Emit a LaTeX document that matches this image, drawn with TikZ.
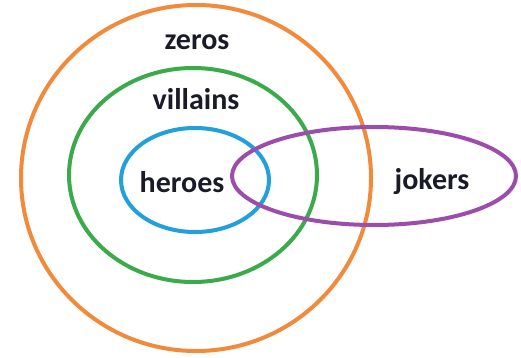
\documentclass[tikz,border=0pt]{standalone}
\usepackage{fontspec}
\setmainfont{Carlito}
\definecolor{orng}{HTML}{F28A3C}
\definecolor{grn}{HTML}{3BAA4B}
\definecolor{blu}{HTML}{22A0DB}
\definecolor{prp}{HTML}{9C4DAB}
\definecolor{txt}{HTML}{1A1A28}
\begin{document}
\begin{tikzpicture}[x=1pt,y=-1pt,
  ring/.style={line width=4pt},
  lbl/.style={text=txt,font=\fontsize{30}{30}\selectfont\bfseries,inner sep=0pt,anchor=base}]
\useasboundingbox (0,0) rectangle (521,358);
\fill[white] (0,0) rectangle (521,358);
\draw[ring,orng] (196,178) ellipse[x radius=175,y radius=173];
\draw[ring,grn] (193,175) ellipse[x radius=124,y radius=107];
\draw[ring,blu] (195,180) ellipse[x radius=74,y radius=52];
\draw[ring,prp] (374,176) ellipse[x radius=142,y radius=49];
\node[lbl] (zeros) at (197,50) {zeros};
\node[lbl] (villains) at (196,110) {villains};
\node[lbl] (heroes) at (182,192) {heroes};
\node[lbl] (jokers) at (432,189) {jokers};
\end{tikzpicture}
\end{document}
